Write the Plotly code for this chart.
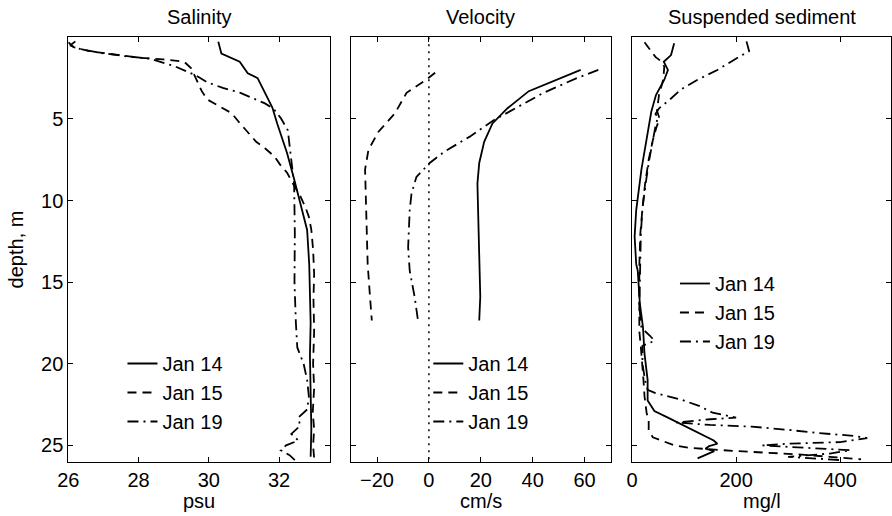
import plotly.graph_objects as go

# ---- Salinity profiles (psu) vs depth (m) ----
sal_jan14_depth = [0.27, 1.0, 1.5, 2.2, 2.5, 3.5, 4.3, 5.3, 7.1, 8.6, 10.6, 11.8, 13.9,
                   15.5, 17.5, 19.5, 21.0, 22.5, 24.0, 25.7]
sal_jan14 = [30.27, 30.36, 30.88, 31.11, 31.39, 31.62, 31.81, 31.95, 32.23, 32.42, 32.65,
             32.8, 32.86, 32.88, 32.9, 32.88, 32.9, 32.9, 32.92, 32.9]

sal_jan15_depth = [0.3, 0.6, 0.85, 1.05, 1.25, 1.35, 1.5, 1.9, 2.6, 3.3, 3.8, 4.3, 4.65, 5.3,
                   5.8, 6.4, 6.8, 7.3, 7.8, 8.3, 8.9, 9.7, 10.4, 11.0, 11.8, 13.0, 14.5,
                   16.0, 18.0, 20.0, 21.5, 23.0, 24.0, 25.0, 25.8]
sal_jan15 = [26.0, 26.15, 26.6, 27.3, 28.0, 28.7, 29.3, 29.5, 29.65, 29.8, 29.95, 30.35,
             30.65, 30.9, 31.1, 31.35, 31.6, 31.87, 32.03, 32.23, 32.38, 32.6, 32.75, 32.85,
             32.92, 32.97, 33.0, 32.98, 33.0, 32.97, 33.0, 32.96, 33.0, 32.97, 33.0]

sal_jan19_depth = [0.25, 0.5, 0.7, 0.95, 1.15, 1.3, 1.75, 2.3, 2.75, 3.1, 3.4, 4.05, 4.4,
                   4.95, 5.7, 7.1, 9.0, 12.0, 15.0, 17.5, 19.0, 20.0, 21.0, 22.0, 22.8,
                   23.3, 23.8, 24.3, 24.7, 25.0, 25.3, 25.6, 25.9]
sal_jan19 = [26.2, 26.05, 26.3, 26.9, 27.6, 28.3, 29.0, 29.6, 29.95, 30.4, 30.9, 31.6,
             31.85, 32.05, 32.25, 32.33, 32.43, 32.45, 32.44, 32.48, 32.52, 32.7, 32.8,
             32.85, 32.8, 32.55, 32.6, 32.35, 32.55, 32.2, 32.05, 32.3, 32.45]

# ---- Velocity profiles (cm/s) ----
vel_jan14_depth = [2.0, 3.3, 4.36, 5.28, 6.4, 7.7, 8.96, 10.6, 13.9, 15.9, 17.35]
vel_jan14 = [58.5, 38.5, 30.2, 24.5, 21.3, 19.4, 18.7, 19.0, 19.4, 19.8, 19.4]

vel_jan15_depth = [2.17, 2.6, 3.4, 4.66, 5.8, 6.9, 8.1, 10.2, 13.9, 15.9, 17.35]
vel_jan15 = [2.4, -1.0, -8.6, -13.1, -19.5, -23.3, -24.6, -24.3, -23.6, -22.7, -22.0]

vel_jan19_depth = [2.0, 2.5, 3.4, 5.07, 6.1, 7.0, 7.7, 8.55, 9.57, 10.6, 12.85, 14.3,
                   15.9, 17.35]
vel_jan19 = [65.3, 57.0, 44.2, 25.1, 15.6, 6.0, 0.3, -4.8, -6.7, -7.4, -8.0, -7.4, -5.5,
             -4.2]

# ---- Suspended sediment profiles (mg/l) ----
sed_jan14_depth = [0.37, 1.09, 1.5, 2.0, 2.6, 3.54, 4.56, 6.3, 8.1, 10.6, 12.2, 13.9, 14.3,
                   16.3, 17.75, 19.4, 21.0, 22.25, 22.9, 23.3, 23.9, 24.3, 24.7, 24.9,
                   25.05, 25.2, 25.35, 25.8]
sed_jan14 = [81, 75, 61, 69, 62, 46, 37, 27, 18, 8, 5, 8, 11, 15, 21, 24, 30, 30, 43, 69,
             107, 132, 157, 164, 148, 141, 158, 126]

sed_jan15_depth = [0.3, 0.8, 1.2, 1.5, 1.8, 2.6, 3.5, 4.5, 5.0, 5.5, 6.3, 7.5, 9.0, 10.5,
                   12.0, 14.0, 16.0, 18.0, 19.0, 20.0, 21.0, 22.0, 23.0, 23.5, 24.1, 24.5,
                   24.7, 25.0, 25.15, 25.25, 25.35, 25.45, 25.55, 25.7, 25.85]
sed_jan15 = [24, 35, 45, 57, 62, 60, 52, 48, 53, 47, 40, 32, 25, 20, 16, 14, 14, 14, 17,
             20, 22, 24, 28, 32, 32, 40, 56, 81, 110, 150, 200, 260, 320, 380, 440]

sed_jan19_depth = [0.25, 0.85, 1.4, 2.0, 2.6, 3.2, 3.75, 4.35, 4.7, 4.9, 5.3, 6.0, 6.6,
                   7.5, 9.0, 10.5, 12.0, 13.5, 15.0, 16.5, 17.8, 18.3, 18.6, 18.9, 20.0,
                   21.0, 21.6, 21.8, 22.2, 22.6, 23.0, 23.3, 23.4, 23.6, 23.75, 23.85,
                   24.05, 24.25, 24.4, 24.55, 24.8, 24.9, 25.0, 25.15, 25.3, 25.5, 25.7,
                   25.9]
sed_jan19 = [220, 225, 195, 164, 126, 94, 75, 52, 45, 50, 46, 42, 38, 33, 26, 20, 17, 16,
             14, 14, 18, 35, 43, 20, 20, 25, 30, 45, 95, 130, 155, 200, 150, 85, 150, 230,
             300, 360, 420, 452, 400, 300, 250, 330, 420, 380, 300, 400]

# zero reference for the velocity panel
zero_line_x = [0, 0]
zero_line_depth = [0, 26]

legend_names = ["Jan 14", "Jan 15", "Jan 19"]
dash_styles = ["solid", "9px,6px", "11px,5px,2px,5px"]

FONT = "Liberation Sans, Arial, Helvetica, sans-serif"
W, H = 892, 516

fig = go.Figure()

panels = [
    ("x", "y", "legend",
     [(sal_jan14, sal_jan14_depth), (sal_jan15, sal_jan15_depth), (sal_jan19, sal_jan19_depth)]),
    ("x2", "y2", "legend2",
     [(vel_jan14, vel_jan14_depth), (vel_jan15, vel_jan15_depth), (vel_jan19, vel_jan19_depth)]),
    ("x3", "y3", "legend3",
     [(sed_jan14, sed_jan14_depth), (sed_jan15, sed_jan15_depth), (sed_jan19, sed_jan19_depth)]),
]

for xa, ya, leg, series in panels:
    for (vals, depth), name, dash in zip(series, legend_names, dash_styles):
        fig.add_trace(go.Scatter(
            x=vals, y=depth, mode="lines", name=name,
            line=dict(color="black", width=1.8, dash=dash),
            xaxis=xa, yaxis=ya, legend=leg,
        ))

fig.add_trace(go.Scatter(
    x=zero_line_x, y=zero_line_depth, mode="lines", showlegend=False,
    line=dict(color="black", width=1.5, dash="2px,5px"),
    xaxis="x2", yaxis="y2",
))

px = lambda v: v / W
py = lambda v: 1 - v / H

ydom = [py(461.7), py(37.3)]
axis_common = dict(
    showline=True, linecolor="black", linewidth=1, mirror="ticks",
    ticks="inside", ticklen=5, tickwidth=1, tickcolor="black",
    showgrid=False, zeroline=False,
    tickfont=dict(family=FONT, size=20, color="black"),
)

fig.update_layout(
    width=W, height=H,
    margin=dict(l=0, r=0, t=0, b=0),
    paper_bgcolor="white", plot_bgcolor="white",
    font=dict(family=FONT, size=20, color="black"),
    xaxis=dict(domain=[px(58.1), px(323.3)], range=[26, 33.45],
               tickvals=[26, 28, 30, 32], anchor="y", **axis_common),
    yaxis=dict(domain=ydom, range=[26, 0], tickvals=[5, 10, 15, 20, 25],
               anchor="x", **axis_common),
    xaxis2=dict(domain=[px(344.7), px(607.7)], range=[-30, 70],
                tickvals=[-20, 0, 20, 40, 60], anchor="y2", **axis_common),
    yaxis2=dict(domain=ydom, range=[26, 0], tickvals=[5, 10, 15, 20, 25],
                showticklabels=False, anchor="x2", **axis_common),
    xaxis3=dict(domain=[px(629.5), 1.0], range=[0, 497.7],
                tickvals=[0, 200, 400], anchor="y3", **axis_common),
    yaxis3=dict(domain=ydom, range=[26, 0], tickvals=[5, 10, 15, 20, 25],
                showticklabels=False, anchor="x3", **axis_common),
    showlegend=True,
)

leg_common = dict(
    xanchor="left", yanchor="top", bgcolor="rgba(0,0,0,0)", borderwidth=0,
    font=dict(family=FONT, size=20, color="black"), traceorder="normal",
    itemclick=False, itemdoubleclick=False, tracegroupgap=0,
)
fig.update_layout(
    legend=dict(x=px(113), y=py(344), **leg_common),
    legend2=dict(x=px(423), y=py(344), **leg_common),
    legend3=dict(x=px(673), y=py(264), **leg_common),
)

titles = [("Salinity", (58.1 + 323.3) / 2), ("Velocity", (344.7 + 607.7) / 2),
          ("Suspended sediment", (629.5 + 893) / 2)]
units = [("psu", (58.1 + 323.3) / 2), ("cm/s", (344.7 + 607.7) / 2),
         ("mg/l", (629.5 + 893) / 2)]

for text, cx in titles:
    fig.add_annotation(text=text, x=px(cx), y=py(16.7), xref="paper", yref="paper",
                       xanchor="center", yanchor="middle", showarrow=False,
                       font=dict(family=FONT, size=20, color="black"))
for text, cx in units:
    fig.add_annotation(text=text, x=px(cx), y=py(501), xref="paper", yref="paper",
                       xanchor="center", yanchor="middle", showarrow=False,
                       font=dict(family=FONT, size=20, color="black"))

fig.add_annotation(text="depth, m", x=px(6), y=py(249.5), xref="paper", yref="paper",
                   xanchor="center", yanchor="middle", textangle=-90, showarrow=False,
                   font=dict(family=FONT, size=20, color="black"))

fig.write_html("out.html")
